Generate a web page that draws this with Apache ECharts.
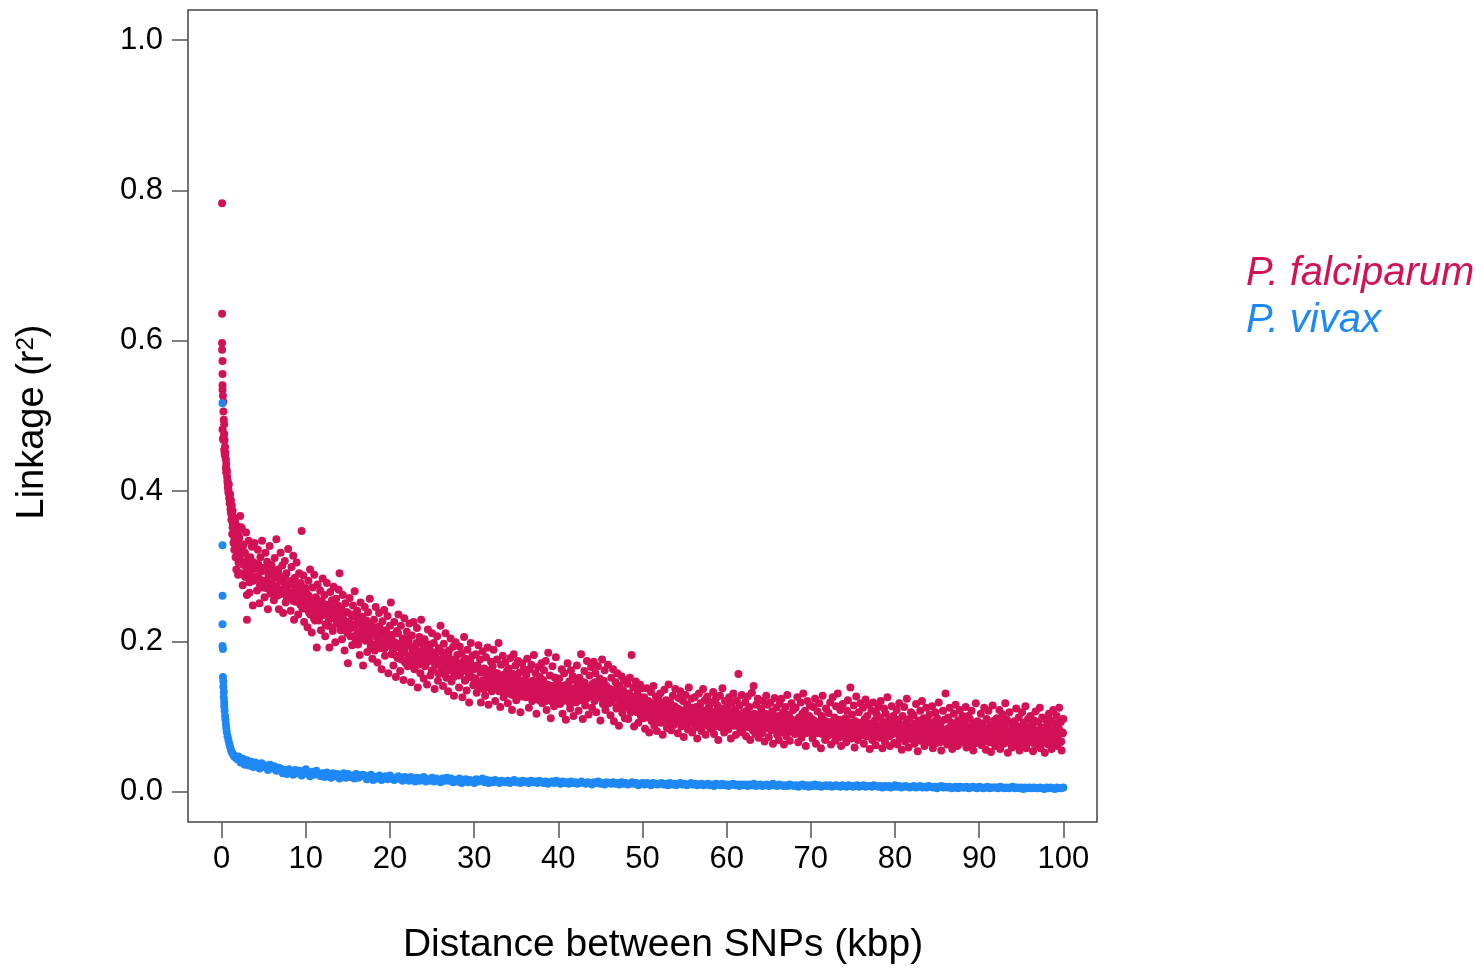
<!DOCTYPE html>
<html>
<head>
<meta charset="utf-8">
<script src="https://cdn.jsdelivr.net/npm/echarts@6/dist/echarts.min.js"></script>
<style>
html,body{margin:0;padding:0;background:#fff;}
#chart{width:1483px;height:968px;}
</style>
</head>
<body>
<div id="chart"></div>
<script>
// ---------- tick labels ----------
const xTicks = [0, 10, 20, 30, 40, 50, 60, 70, 80, 90, 100];
const yTicks = [0, 0.2, 0.4, 0.6, 0.8, 1.0];
const seriesNames = ['P. falciparum', 'P. vivax'];

// ---------- P. falciparum : points very close to 0 kbp (x, r2) ----------
const falNearX = [0.05,0.05,0.05,0.05,0.1,0.1,0.1,0.1,0.15,0.2,0.2,0.25,0.3,0.3,0.35,0.4,0.45,0.5,0.55,0.6,0.65,0.7,0.75,0.8,0.85,0.9,0.95,1.0,1.05,1.1,1.15,1.2,1.25,1.3,1.35,1.4,1.45,1.5,1.55,1.6,1.65,1.7,1.75,1.8,1.85,1.9,1.95,2.0,2.2,2.5,2.7,3.0,2.4,3.3];
const falNearY = [0.783,0.636,0.597,0.588,0.573,0.556,0.541,0.535,0.527,0.519,0.506,0.495,0.489,0.476,0.468,0.459,0.451,0.442,0.436,0.428,0.419,0.414,0.406,0.398,0.409,0.391,0.384,0.396,0.376,0.388,0.362,0.369,0.343,0.374,0.356,0.331,0.347,0.322,0.361,0.337,0.312,0.344,0.296,0.327,0.353,0.318,0.289,0.341,0.367,0.322,0.289,0.229,0.35,0.265];

// ---------- P. falciparum : r2 every 0.1 kbp, one list per 10 kbp ----------
const falStep = 0.1;
const falSegStart = [0.1, 10.1, 20.1, 30.1, 40.1, 50.1, 60.1, 70.1, 80.1, 90.1];
const falSeg1 = [
0.482,0.468,0.455,0.447,0.431,0.425,0.412,0.402,0.396,0.383,0.372,0.381,0.352,0.365,0.338,0.358,0.321,0.349,0.333,0.305,
0.338,0.291,0.352,0.307,0.275,0.329,0.318,0.286,0.345,0.262,0.301,0.334,0.279,0.312,0.296,0.326,0.248,0.305,0.331,0.284,
0.301,0.268,0.322,0.285,0.251,0.312,0.294,0.334,0.272,0.298,0.259,0.318,0.281,0.306,0.243,0.291,0.327,0.264,0.302,0.276,
0.289,0.255,0.311,0.272,0.336,0.261,0.296,0.243,0.283,0.318,0.266,0.301,0.238,0.279,0.307,0.252,0.291,0.268,0.323,0.258,
0.276,0.241,0.299,0.262,0.314,0.229,0.285,0.253,0.305,0.269,0.236,0.291,0.259,0.278,0.347,0.244,0.288,0.226,0.271,0.252];
const falSeg2 = [
0.264,0.219,0.281,0.238,0.296,0.251,0.212,0.272,0.243,0.289,0.228,0.259,0.192,0.276,0.247,0.233,0.268,0.215,0.254,0.284,
0.236,0.262,0.207,0.249,0.278,0.221,0.243,0.192,0.266,0.231,0.255,0.214,0.273,0.238,0.199,0.257,0.226,0.248,0.269,0.291,
0.218,0.245,0.203,0.262,0.229,0.188,0.251,0.214,0.239,0.171,0.226,0.258,0.207,0.236,0.195,0.248,0.221,0.267,0.199,0.232,
0.241,0.196,0.224,0.182,0.252,0.211,0.233,0.168,0.219,0.246,0.201,0.228,0.186,0.239,0.208,0.257,0.193,0.222,0.177,0.214,
0.229,0.188,0.246,0.206,0.172,0.219,0.238,0.191,0.211,0.163,0.227,0.198,0.242,0.181,0.215,0.203,0.234,0.158,0.196,0.221];
const falSeg3 = [
0.252,0.183,0.209,0.168,0.226,0.192,0.153,0.214,0.178,0.236,0.197,0.161,0.221,0.186,0.204,0.149,0.231,0.172,0.195,0.213,
0.167,0.201,0.224,0.181,0.146,0.208,0.189,0.226,0.163,0.194,0.175,0.218,0.139,0.186,0.206,0.158,0.229,0.177,0.197,0.151,
0.203,0.168,0.189,0.143,0.216,0.174,0.196,0.155,0.181,0.211,0.162,0.198,0.137,0.184,0.169,0.207,0.148,0.191,0.176,0.221,
0.158,0.186,0.141,0.197,0.166,0.211,0.152,0.179,0.134,0.188,0.169,0.204,0.147,0.175,0.193,0.128,0.163,0.199,0.156,0.182,
0.171,0.139,0.193,0.158,0.184,0.126,0.166,0.206,0.148,0.177,0.135,0.189,0.161,0.119,0.174,0.198,0.153,0.181,0.142,0.167];
const falSeg4 = [
0.149,0.183,0.132,0.168,0.195,0.141,0.176,0.119,0.159,0.187,0.137,0.164,0.128,0.179,0.153,0.192,0.116,0.161,0.144,0.173,
0.134,0.167,0.189,0.147,0.121,0.158,0.176,0.139,0.198,0.152,0.113,0.169,0.143,0.181,0.126,0.156,0.172,0.137,0.161,0.118,
0.164,0.131,0.178,0.146,0.109,0.157,0.183,0.138,0.168,0.122,0.151,0.174,0.134,0.159,0.106,0.142,0.171,0.127,0.163,0.148,
0.129,0.156,0.177,0.141,0.112,0.163,0.135,0.169,0.121,0.148,0.182,0.132,0.158,0.104,0.144,0.166,0.126,0.153,0.138,0.171,
0.118,0.149,0.162,0.131,0.174,0.109,0.143,0.185,0.136,0.155,0.098,0.128,0.167,0.141,0.114,0.152,0.179,0.124,0.146,0.133];
const falSeg5 = [
0.151,0.117,0.139,0.163,0.104,0.128,0.158,0.142,0.096,0.134,0.171,0.121,0.147,0.111,0.162,0.126,0.154,0.101,0.138,0.149,
0.119,0.168,0.132,0.108,0.152,0.141,0.183,0.124,0.097,0.146,0.161,0.115,0.137,0.174,0.128,0.103,0.155,0.133,0.166,0.112,
0.144,0.173,0.121,0.158,0.106,0.139,0.167,0.126,0.151,0.095,0.134,0.176,0.117,0.148,0.162,0.109,0.141,0.128,0.169,0.118,
0.137,0.102,0.152,0.123,0.163,0.094,0.131,0.146,0.111,0.158,0.127,0.088,0.141,0.119,0.154,0.105,0.135,0.149,0.098,0.126,
0.113,0.144,0.097,0.131,0.152,0.106,0.182,0.124,0.139,0.087,0.118,0.147,0.109,0.135,0.092,0.127,0.143,0.101,0.121,0.138];
const falSeg6 = [
0.098,0.126,0.084,0.115,0.138,0.102,0.121,0.079,0.109,0.133,0.094,0.118,0.141,0.088,0.112,0.127,0.081,0.106,0.123,0.097,
0.131,0.092,0.117,0.076,0.108,0.136,0.099,0.122,0.085,0.113,0.143,0.095,0.119,0.082,0.104,0.128,0.089,0.114,0.137,0.101,
0.111,0.078,0.125,0.096,0.134,0.087,0.108,0.121,0.073,0.102,0.129,0.091,0.116,0.083,0.139,0.105,0.094,0.124,0.079,0.112,
0.097,0.126,0.086,0.113,0.071,0.104,0.131,0.092,0.118,0.081,0.109,0.137,0.095,0.122,0.076,0.101,0.127,0.088,0.114,0.099,
0.084,0.119,0.102,0.133,0.077,0.107,0.124,0.091,0.115,0.069,0.098,0.128,0.086,0.111,0.138,0.094,0.079,0.121,0.103,0.089];
const falSeg7 = [
0.112,0.083,0.126,0.097,0.071,0.118,0.104,0.131,0.088,0.109,0.076,0.122,0.093,0.157,0.115,0.084,0.101,0.129,0.079,0.106,
0.091,0.119,0.074,0.108,0.127,0.086,0.113,0.069,0.099,0.132,0.082,0.141,0.104,0.077,0.116,0.093,0.124,0.072,0.102,0.087,
0.111,0.078,0.121,0.095,0.067,0.104,0.128,0.085,0.116,0.073,0.098,0.119,0.082,0.107,0.064,0.093,0.125,0.088,0.112,0.076,
0.101,0.069,0.117,0.086,0.124,0.079,0.106,0.063,0.095,0.113,0.074,0.129,0.089,0.103,0.068,0.097,0.118,0.081,0.109,0.091,
0.077,0.112,0.094,0.126,0.066,0.099,0.083,0.119,0.072,0.104,0.131,0.087,0.108,0.061,0.093,0.121,0.079,0.101,0.115,0.084];
const falSeg8 = [
0.097,0.071,0.113,0.086,0.124,0.064,0.092,0.107,0.078,0.118,0.089,0.058,0.101,0.128,0.083,0.095,0.069,0.111,0.087,0.074,
0.105,0.081,0.119,0.063,0.093,0.126,0.077,0.099,0.068,0.114,0.088,0.131,0.072,0.096,0.109,0.061,0.084,0.117,0.091,0.075,
0.098,0.066,0.108,0.122,0.079,0.092,0.139,0.071,0.103,0.086,0.115,0.059,0.094,0.127,0.082,0.069,0.106,0.089,0.118,0.076,
0.087,0.112,0.064,0.097,0.123,0.074,0.101,0.083,0.116,0.057,0.091,0.108,0.069,0.119,0.085,0.095,0.062,0.104,0.078,0.113,
0.072,0.099,0.121,0.081,0.058,0.093,0.111,0.067,0.104,0.086,0.126,0.075,0.096,0.061,0.088,0.114,0.079,0.101,0.065,0.092];
const falSeg9 = [
0.084,0.109,0.063,0.096,0.118,0.074,0.088,0.056,0.101,0.079,0.113,0.067,0.092,0.124,0.082,0.059,0.097,0.071,0.106,0.087,
0.076,0.102,0.064,0.091,0.117,0.081,0.054,0.095,0.069,0.108,0.086,0.121,0.073,0.098,0.061,0.089,0.112,0.077,0.094,0.066,
0.103,0.071,0.087,0.114,0.058,0.093,0.079,0.106,0.065,0.098,0.084,0.119,0.069,0.091,0.055,0.082,0.108,0.074,0.096,0.131,
0.078,0.063,0.099,0.085,0.112,0.068,0.092,0.057,0.081,0.104,0.072,0.116,0.088,0.061,0.095,0.076,0.109,0.066,0.089,0.101,
0.069,0.093,0.081,0.113,0.059,0.087,0.101,0.074,0.097,0.063,0.108,0.084,0.055,0.091,0.077,0.118,0.071,0.094,0.065,0.086];
const falSeg10 = [
0.079,0.104,0.062,0.091,0.071,0.112,0.084,0.056,0.097,0.075,0.108,0.066,0.089,0.053,0.083,0.115,0.072,0.095,0.061,0.087,
0.098,0.068,0.082,0.109,0.057,0.093,0.076,0.103,0.064,0.088,0.118,0.071,0.096,0.052,0.081,0.106,0.074,0.091,0.059,0.085,
0.067,0.094,0.078,0.111,0.061,0.087,0.099,0.055,0.083,0.072,0.106,0.064,0.092,0.079,0.114,0.058,0.086,0.097,0.069,0.081,
0.101,0.073,0.089,0.054,0.095,0.068,0.107,0.082,0.062,0.093,0.077,0.112,0.058,0.086,0.099,0.071,0.083,0.052,0.096,0.075,
0.088,0.063,0.104,0.078,0.095,0.057,0.082,0.109,0.069,0.091,0.074,0.101,0.061,0.086,0.112,0.066,0.093,0.055,0.079,0.097];

// ---------- P. falciparum : dense core of the band, r2 every 0.2 kbp (x = start + 0.05) ----------
const coreStep = 0.2;
const coreSegStart = [0.15, 10.15, 20.15, 30.15, 40.15, 50.15, 60.15, 70.15, 80.15, 90.15];
const falCore1 = [
0.47,0.45,0.425,0.405,0.39,0.37,0.355,0.345,0.33,0.322,
0.315,0.328,0.302,0.318,0.296,0.31,0.289,0.305,0.281,0.297,
0.287,0.303,0.275,0.294,0.281,0.298,0.271,0.289,0.279,0.295,
0.268,0.285,0.274,0.291,0.263,0.281,0.27,0.286,0.259,0.276,
0.265,0.281,0.254,0.272,0.261,0.276,0.249,0.266,0.257,0.271];
const falCore2 = [
0.243,0.261,0.236,0.254,0.231,0.249,0.24,0.228,0.252,0.235,
0.244,0.223,0.238,0.229,0.246,0.219,0.233,0.241,0.224,0.236,
0.215,0.231,0.222,0.239,0.211,0.226,0.218,0.234,0.207,0.223,
0.213,0.229,0.204,0.219,0.226,0.209,0.217,0.201,0.221,0.211,
0.196,0.214,0.205,0.22,0.199,0.209,0.191,0.213,0.202,0.194];
const falCore3 = [
0.206,0.188,0.199,0.181,0.211,0.192,0.176,0.197,0.186,0.203,
0.178,0.194,0.171,0.189,0.182,0.198,0.169,0.185,0.176,0.193,
0.167,0.182,0.174,0.189,0.161,0.178,0.169,0.186,0.158,0.174,
0.165,0.179,0.156,0.172,0.181,0.162,0.17,0.153,0.176,0.164,
0.155,0.169,0.161,0.174,0.149,0.166,0.157,0.171,0.152,0.163];
const falCore4 = [
0.151,0.165,0.143,0.159,0.148,0.163,0.139,0.155,0.146,0.161,
0.137,0.152,0.144,0.158,0.134,0.149,0.141,0.156,0.131,0.147,
0.139,0.153,0.129,0.145,0.137,0.151,0.127,0.142,0.135,0.149,
0.126,0.141,0.133,0.147,0.124,0.139,0.131,0.145,0.122,0.137,
0.129,0.143,0.121,0.135,0.127,0.141,0.119,0.133,0.125,0.138];
const falCore5 = [
0.128,0.141,0.121,0.136,0.126,0.139,0.118,0.133,0.124,0.138,
0.129,0.143,0.122,0.136,0.131,0.145,0.124,0.138,0.127,0.14,
0.133,0.146,0.125,0.139,0.129,0.142,0.121,0.135,0.127,0.137,
0.119,0.132,0.124,0.136,0.114,0.128,0.121,0.133,0.111,0.125,
0.118,0.129,0.109,0.122,0.115,0.127,0.106,0.119,0.113,0.124];
const falCore6 = [
0.106,0.117,0.099,0.112,0.104,0.115,0.097,0.109,0.102,0.114,
0.095,0.108,0.101,0.113,0.094,0.106,0.099,0.111,0.093,0.104,
0.098,0.11,0.092,0.103,0.097,0.109,0.091,0.102,0.096,0.108,
0.09,0.101,0.095,0.107,0.089,0.1,0.094,0.106,0.088,0.099,
0.093,0.105,0.087,0.098,0.092,0.104,0.086,0.097,0.091,0.103];
const falCore7 = [
0.096,0.107,0.09,0.101,0.094,0.105,0.088,0.099,0.093,0.104,
0.087,0.098,0.092,0.103,0.086,0.097,0.091,0.102,0.085,0.096,
0.09,0.101,0.084,0.095,0.089,0.1,0.083,0.094,0.088,0.099,
0.082,0.093,0.087,0.098,0.081,0.092,0.086,0.097,0.08,0.091,
0.085,0.096,0.079,0.09,0.084,0.095,0.078,0.089,0.083,0.094];
const falCore8 = [
0.086,0.095,0.079,0.09,0.084,0.094,0.077,0.088,0.083,0.093,
0.076,0.087,0.082,0.092,0.075,0.086,0.081,0.091,0.074,0.085,
0.084,0.094,0.077,0.088,0.083,0.093,0.076,0.087,0.082,0.092,
0.075,0.086,0.081,0.091,0.074,0.085,0.08,0.09,0.073,0.084,
0.079,0.089,0.072,0.083,0.078,0.088,0.074,0.082,0.077,0.087];
const falCore9 = [
0.078,0.088,0.071,0.083,0.076,0.087,0.069,0.081,0.074,0.086,
0.07,0.082,0.075,0.087,0.068,0.08,0.073,0.085,0.069,0.079,
0.074,0.086,0.067,0.078,0.072,0.084,0.066,0.077,0.071,0.083,
0.068,0.079,0.073,0.085,0.066,0.077,0.071,0.082,0.065,0.076,
0.07,0.081,0.066,0.075,0.069,0.08,0.064,0.074,0.068,0.079];
const falCore10 = [
0.074,0.085,0.068,0.079,0.072,0.083,0.066,0.077,0.071,0.082,
0.067,0.078,0.073,0.084,0.065,0.076,0.07,0.081,0.064,0.075,
0.069,0.08,0.072,0.083,0.066,0.077,0.071,0.082,0.065,0.076,
0.07,0.081,0.064,0.075,0.069,0.08,0.073,0.084,0.066,0.077,
0.068,0.079,0.072,0.083,0.065,0.076,0.071,0.082,0.067,0.078];

// ---------- P. vivax : points very close to 0 kbp (x, r2) ----------
const vivNearX = [0.1,0.1,0.1,0.1,0.1,0.15,0.15,0.2,0.2,0.25,0.25,0.3,0.3,0.35,0.4,0.45,0.5,0.55,0.6,0.7,0.8,0.9,1.0,1.1,1.2,1.3,1.4,1.5,1.7,1.9];
const vivNearY = [0.517,0.328,0.261,0.223,0.194,0.19,0.153,0.147,0.14,0.133,0.126,0.12,0.114,0.108,0.101,0.096,0.09,0.085,0.08,0.074,0.069,0.064,0.060,0.056,0.053,0.051,0.049,0.047,0.045,0.043];

// ---------- P. vivax : r2 every 0.25 kbp from 2 to 100 kbp ----------
const vivStart = 2.0;
const vivStep = 0.25;
const vivY = [
.047,.039,.044,.036,.042,.035,.040,.033,.039,.036,.031,.038,.033,.035,.029,.036,.031,.034,.028,.032,
.031,.025,.029,.024,.030,.026,.023,.029,.025,.028,.022,.027,.030,.024,.021,.027,.023,.028,.025,.021,
.025,.020,.026,.022,.019,.025,.021,.024,.018,.022,.025,.019,.024,.020,.022,.018,.024,.019,.021,.023,
.022,.017,.021,.023,.016,.020,.018,.022,.016,.019,.021,.017,.022,.018,.016,.019,.021,.017,.015,.020,
.019,.015,.020,.017,.014,.019,.015,.018,.020,.014,.017,.015,.019,.014,.018,.016,.013,.018,.015,.019,
.015,.018,.013,.016,.014,.018,.012,.015,.017,.013,.016,.014,.012,.017,.014,.015,.018,.013,.016,.012,
.015,.013,.016,.014,.012,.015,.014,.013,.015,.012,.014,.016,.013,.014,.012,.015,.013,.014,.012,.015,
.013,.014,.012,.015,.013,.012,.014,.011,.013,.014,.012,.015,.013,.011,.014,.012,.013,.011,.014,.012,
.013,.011,.012,.014,.012,.011,.013,.012,.010,.013,.012,.014,.011,.012,.010,.013,.012,.011,.013,.011,
.012,.010,.013,.011,.012,.010,.011,.013,.011,.012,.009,.011,.012,.010,.012,.011,.009,.012,.011,.010,
.011,.012,.010,.011,.009,.012,.010,.011,.009,.011,.012,.010,.011,.009,.010,.012,.010,.011,.009,.010,
.011,.009,.010,.011,.009,.010,.008,.011,.010,.009,.011,.009,.010,.008,.010,.011,.009,.010,.008,.010,
.009,.010,.008,.010,.009,.011,.008,.009,.010,.008,.009,.010,.008,.009,.011,.009,.008,.010,.009,.008,
.009,.008,.010,.009,.008,.009,.007,.009,.010,.008,.009,.007,.009,.008,.010,.008,.009,.007,.008,.009,
.008,.009,.007,.008,.009,.008,.007,.009,.008,.007,.009,.008,.007,.008,.009,.007,.008,.009,.007,.008,
.008,.007,.009,.008,.007,.008,.006,.008,.007,.008,.006,.007,.009,.007,.008,.006,.007,.008,.007,.006,
.007,.008,.006,.007,.008,.006,.007,.006,.008,.007,.006,.007,.005,.007,.008,.006,.007,.006,.007,.005,
.006,.007,.005,.007,.006,.006,.007,.005,.006,.007,.006,.005,.007,.006,.005,.006,.007,.005,.006,.006,
.006,.005,.007,.006,.005,.006,.005,.006,.007,.005,.006,.005,.006,.004,.006,.005,.006,.005,.006,.005,
.005,.006,.005,.004,.006,.005,.006,.005,.004,.006,.005,.005,.006];

// ---------- build point lists ----------
const falSegs = [falSeg1, falSeg2, falSeg3, falSeg4, falSeg5, falSeg6, falSeg7, falSeg8, falSeg9, falSeg10];
const falCores = [falCore1, falCore2, falCore3, falCore4, falCore5, falCore6, falCore7, falCore8, falCore9, falCore10];
const falData = [];
falNearX.forEach((x, i) => falData.push([x, falNearY[i]]));
falSegs.forEach((seg, s) => seg.forEach((y, i) => falData.push([+(falSegStart[s] + i * falStep).toFixed(2), y])));
falCores.forEach((seg, s) => seg.forEach((y, i) => falData.push([+(coreSegStart[s] + i * coreStep).toFixed(2), y])));
const vivData = [];
vivNearX.forEach((x, i) => vivData.push([x, vivNearY[i]]));
vivY.forEach((y, i) => vivData.push([+(vivStart + i * vivStep).toFixed(2), y]));

const RED = '#D31157';
const BLUE = '#1E88F5';
const FONT = '"Liberation Sans", Arial, Helvetica, sans-serif';

const chart = echarts.init(document.getElementById('chart'), null, {renderer: 'canvas'});
chart.setOption({
  animation: false,
  backgroundColor: '#ffffff',
  textStyle: {fontFamily: FONT},
  grid: {left: 188, top: 10, width: 909, height: 812, show: true, borderColor: '#444', borderWidth: 1.5, backgroundColor: 'transparent'},
  legend: {
    orient: 'vertical', left: 1236, top: 245, itemWidth: 0, itemHeight: 0, itemGap: 0,
    selectedMode: false,
    textStyle: {fontSize: 40, fontStyle: 'italic', fontFamily: FONT, lineHeight: 47},
    data: [
      {name: seriesNames[0], icon: 'circle', textStyle: {color: RED}},
      {name: seriesNames[1], icon: 'circle', textStyle: {color: BLUE}}
    ]
  },
  xAxis: {
    type: 'value', min: -4, max: 104,
    splitLine: {show: false},
    axisLine: {show: false, onZero: false},
    axisTick: {show: true, inside: false, length: 16, customValues: xTicks, lineStyle: {color: '#555', width: 1.5}},
    axisLabel: {customValues: xTicks, fontSize: 31, color: '#000', margin: 22, fontFamily: FONT}
  },
  yAxis: {
    type: 'value', min: -0.04, max: 1.04,
    splitLine: {show: false},
    axisLine: {show: false, onZero: false},
    axisTick: {show: true, inside: false, length: 16, customValues: yTicks, lineStyle: {color: '#555', width: 1.5}},
    axisLabel: {customValues: yTicks, fontSize: 31, color: '#000', margin: 25, fontFamily: FONT, formatter: v => v.toFixed(1)}
  },
  graphic: [
    {type: 'text', x: 663, y: 945, style: {text: 'Distance between SNPs (kbp)', fill: '#000', font: '39px ' + FONT, textAlign: 'center', textVerticalAlign: 'middle'}},
    {type: 'text', x: 33, y: 422, rotation: Math.PI / 2,
      style: {text: 'Linkage (r{sup|2})', fill: '#000', font: '38px ' + FONT, textAlign: 'center', textVerticalAlign: 'middle',
        rich: {sup: {fontSize: 24, fontFamily: FONT, verticalAlign: 'top', padding: [0, 0, 14, 0]}}}}
  ],
  series: [
    {name: seriesNames[0], type: 'scatter', data: falData, symbol: 'circle', symbolSize: 8, itemStyle: {color: RED, opacity: 1}, silent: true},
    {name: seriesNames[1], type: 'scatter', data: vivData, symbol: 'circle', symbolSize: 8, itemStyle: {color: BLUE, opacity: 1}, silent: true}
  ]
});
</script>
</body>
</html>
